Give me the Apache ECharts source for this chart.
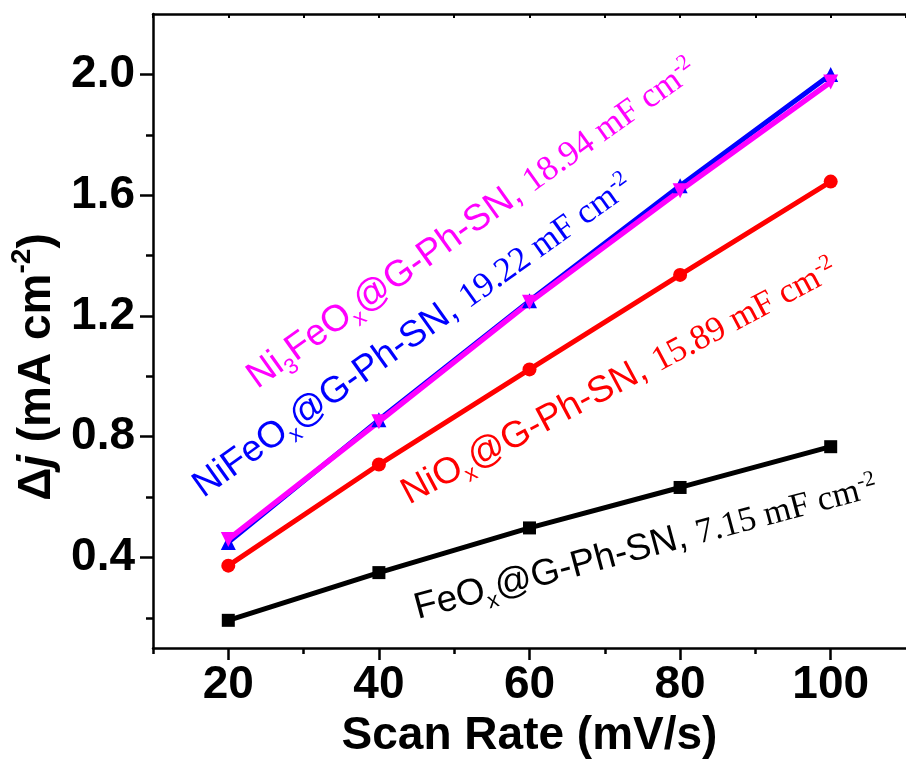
<!DOCTYPE html>
<html>
<head>
<meta charset="utf-8">
<script src="https://cdn.jsdelivr.net/npm/echarts@6/dist/echarts.min.js"></script>
<style>html,body{margin:0;padding:0;background:#fff;}#c{width:906px;height:764px;}</style>
</head>
<body>
<div id="c"></div>
<script>
// ---- data ----
var scanRates = [20, 40, 60, 80, 100];
var feOx   = [0.192, 0.350, 0.498, 0.632, 0.767];
var niOx   = [0.373, 0.708, 1.023, 1.336, 1.645];
var niFeOx = [0.450, 0.856, 1.250, 1.631, 2.000];
var ni3FeOx= [0.460, 0.850, 1.245, 1.615, 1.975];
var xMajorTicks = [20, 40, 60, 80, 100];
var xMinorTicks = [10, 30, 50, 70, 90];
var xTopTicks = [10, 20, 30, 40, 50, 60, 70, 80, 90, 100, 110];
var yMajorTicks = [0.4, 0.8, 1.2, 1.6, 2.0];
var yMinorTicks = [0.2, 0.6, 1.0, 1.4, 1.8];

function pairs(xs, ys){ return xs.map(function(x,i){return [x, ys[i]];}); }

var SANS = '"Liberation Sans", Arial, sans-serif';
var SERIF = '"Liberation Serif", "Times New Roman", serif';

var chart = echarts.init(document.getElementById('c'), null, {renderer:'canvas'});

var axisLineStyle = {color:'#000', width:2.5};

function annot(x, y, deg, color, parts){
  return {
    type:'text', x:x, y:y, rotation: deg*Math.PI/180, z:100,
    style:{
      text: parts, fill: color, align:'left', verticalAlign:'bottom',
      fontFamily: SANS, fontSize: 37,
      rich:{
        s:{fontFamily:SANS, fontSize:37, fill:color, verticalAlign:'bottom', lineHeight:42},
        sub:{fontFamily:SANS, fontSize:22, fill:color, verticalAlign:'bottom', lineHeight:42, padding:[0,0,-5,0]},
        r:{fontFamily:SERIF, fontSize:35, fill:color, verticalAlign:'bottom', lineHeight:42},
        sup:{fontFamily:SERIF, fontSize:22, fill:color, verticalAlign:'top', lineHeight:42, padding:[5,0,0,0]}
      }
    }
  };
}

var option = {
  animation:false,
  backgroundColor:'#fff',
  grid:{left:153, top:14, width:760, height:639, containLabel:false},
  xAxis:[
    {type:'value', min:10, max:110, position:'bottom',
     axisLine:{show:true, lineStyle:axisLineStyle},
     axisTick:{show:true, inside:false, length:12, lineStyle:{width:2.5,color:'#000'}, customValues:xMajorTicks},
     axisLabel:{show:true, customValues:xMajorTicks, margin:14, color:'#000', fontSize:46, fontWeight:'bold', fontFamily:SANS},
     splitLine:{show:false},
     name:'Scan Rate (mV/s)', nameLocation:'middle', nameGap:60,
     nameTextStyle:{color:'#000', fontSize:46, fontWeight:'bold', fontFamily:SANS}
    },
    {type:'value', min:10, max:110, position:'bottom', gridIndex:0,
     axisLine:{show:false},
     axisTick:{show:true, inside:false, length:6, lineStyle:{width:2.5,color:'#000'}, customValues:xMinorTicks},
     axisLabel:{show:false}, splitLine:{show:false}
    },
    {type:'value', min:10, max:110, position:'top', gridIndex:0,
     axisLine:{show:true, lineStyle:axisLineStyle},
     axisTick:{show:true, inside:true, length:4, lineStyle:{width:2,color:'#000'}, customValues:xTopTicks},
     axisLabel:{show:false}, splitLine:{show:false}
    }
  ],
  yAxis:[
    {type:'value', min:0.1, max:2.2, position:'left',
     axisLine:{show:true, lineStyle:axisLineStyle},
     axisTick:{show:true, inside:false, length:13, lineStyle:{width:2.5,color:'#000'}, customValues:yMajorTicks},
     axisLabel:{show:true, customValues:yMajorTicks, margin:18, color:'#000', fontSize:46, fontWeight:'bold', fontFamily:SANS,
       formatter:function(v){return Number(v).toFixed(1);}},
     splitLine:{show:false},
     name:'Δ{i|j} (mA cm{sup|-2})', nameLocation:'middle', nameGap:80, nameRotate:90,
     nameTextStyle:{color:'#000', fontSize:46, fontWeight:'bold', fontFamily:SANS, padding:[0,72,0,0],
       rich:{
         i:{fontStyle:'italic', fontWeight:'bold', fontSize:46, fontFamily:SANS, color:'#000'},
         sup:{fontWeight:'bold', fontSize:28, fontFamily:SANS, color:'#000', verticalAlign:'top', padding:[-6,0,0,0]}
       }}
    },
    {type:'value', min:0.1, max:2.2, position:'left', gridIndex:0,
     axisLine:{show:false},
     axisTick:{show:true, inside:false, length:7, lineStyle:{width:2.5,color:'#000'}, customValues:yMinorTicks},
     axisLabel:{show:false}, splitLine:{show:false}
    }
  ],
  series:[
    {type:'line', name:'FeOx', data:pairs(scanRates, feOx), symbol:'rect', symbolSize:13,
     lineStyle:{color:'#000', width:5}, itemStyle:{color:'#000'}},
    {type:'line', name:'NiOx', data:pairs(scanRates, niOx), symbol:'circle', symbolSize:14,
     lineStyle:{color:'#FF0000', width:5}, itemStyle:{color:'#FF0000'}},
    {type:'line', name:'NiFeOx', data:pairs(scanRates, niFeOx), symbol:'triangle', symbolSize:15,
     lineStyle:{color:'#0000FF', width:5}, itemStyle:{color:'#0000FF'}},
    {type:'line', name:'Ni3FeOx', data:pairs(scanRates, ni3FeOx), symbol:'triangle', symbolRotate:180, symbolSize:15,
     lineStyle:{color:'#FF00FF', width:5.5}, itemStyle:{color:'#FF00FF'}}
  ],
  graphic:[
    annot(262, 396, 35.5, '#FF00FF', '{s|Ni}{sub|3}{s|FeO}{sub|x}{s|@G-Ph-SN, }{r|18.94 mF cm}{sup|-2}'),
    annot(208, 505, 35.5, '#0000FF', '{s|NiFeO}{sub|x}{s|@G-Ph-SN, }{r|19.22 mF cm}{sup|-2}'),
    annot(413, 512, 28, '#FF0000', '{s|NiO}{sub|x}{s|@G-Ph-SN, }{r|15.89 mF cm}{sup|-2}'),
    annot(420, 627, 15, '#000000', '{s|FeO}{sub|x}{s|@G-Ph-SN, }{r|7.15 mF cm}{sup|-2}')
  ]
};
chart.setOption(option);
</script>
</body>
</html>
